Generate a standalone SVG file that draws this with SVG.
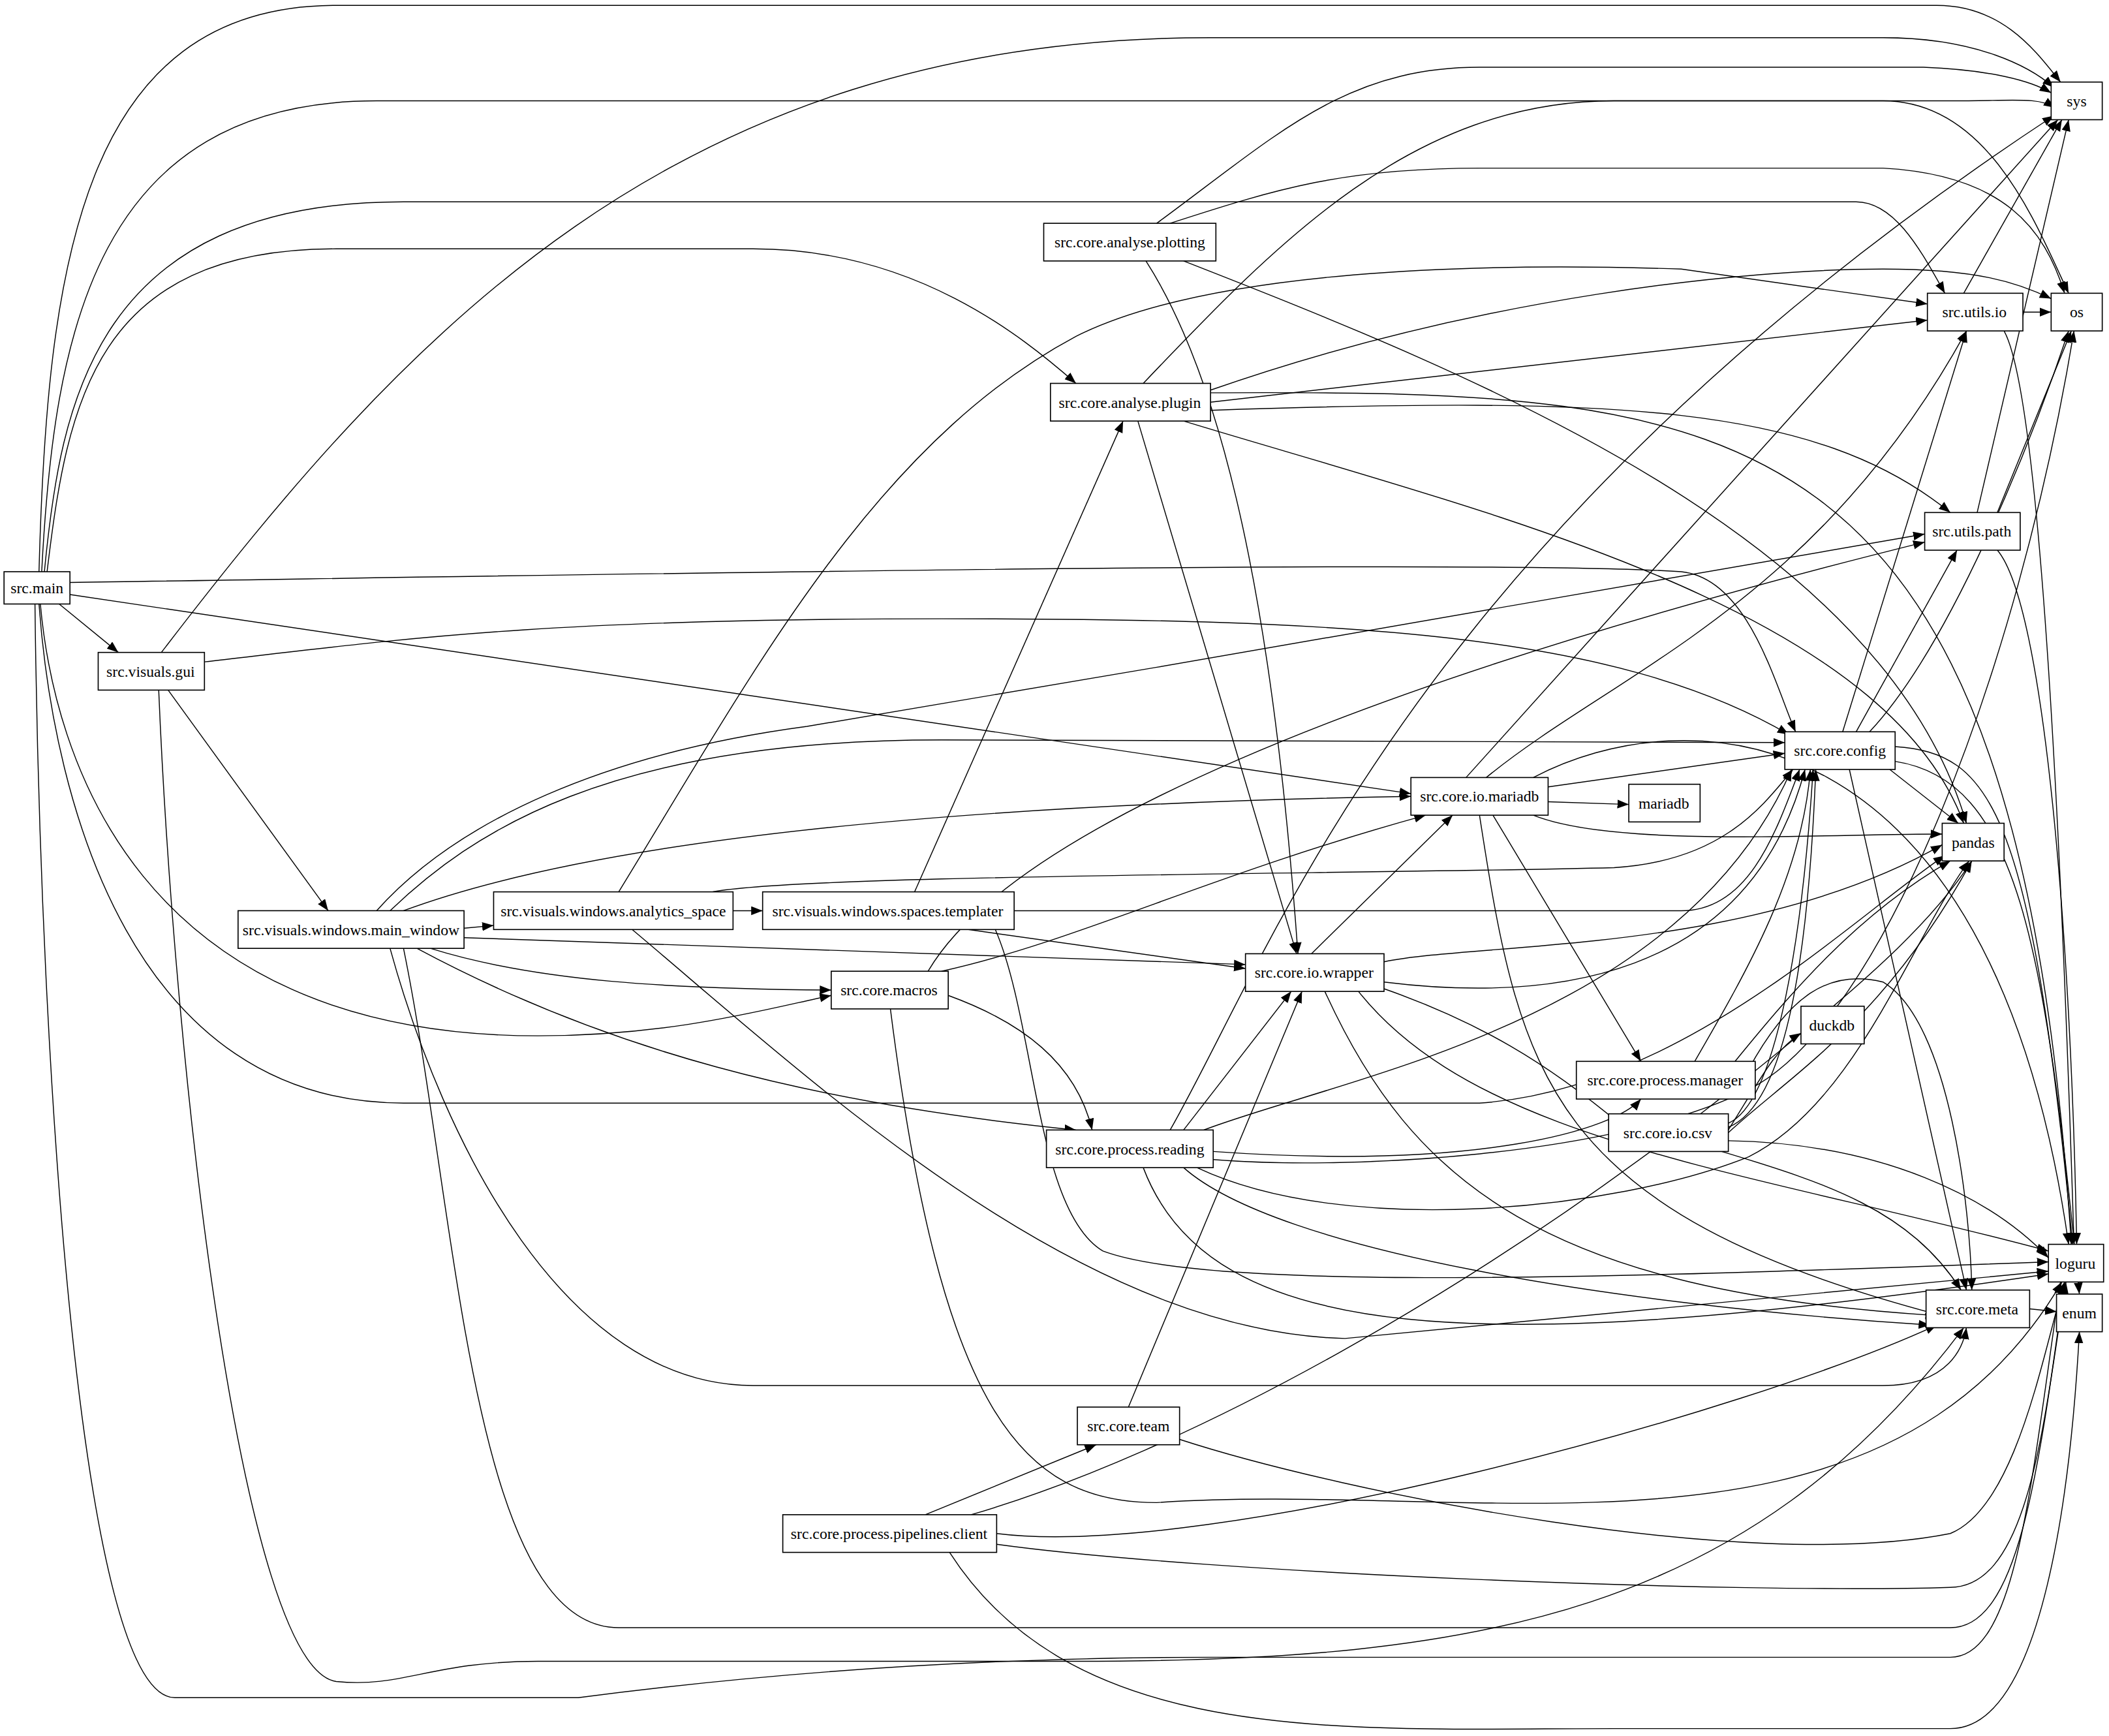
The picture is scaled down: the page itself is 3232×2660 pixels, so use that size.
<svg xmlns="http://www.w3.org/2000/svg" width="3232" height="2660" viewBox="0 0 3232 2660">
<style>
.n rect{fill:#fff;stroke:#000;stroke-width:0.8}
.n text{font-family:"Liberation Serif","Times New Roman",serif;font-size:11.5px;text-anchor:middle;fill:#000}
.e path{fill:none;stroke:#000;stroke-width:0.7;marker-end:url(#a)}
</style>
<defs><marker id="a" markerUnits="userSpaceOnUse" markerWidth="9" markerHeight="7" refX="8.5" refY="3.3" orient="auto"><path d="M0,0 L8.5,3.3 L0,6.6 z" fill="#000"/></marker></defs>
<rect width="3232" height="2660" fill="#fff"/>
<g transform="scale(2.0612)">
<g id="edges" class="e">
<path d="M29,425 C35,200 60,4 250,4 L1440,4 C1490,4 1515,40 1532,61"/>
<path d="M31,425 C40,250 70,75 280,75 L1400,75 C1480,75 1515,170 1538,218"/>
<path d="M33,425 C45,300 70,150 300,150 L1380,150 C1410,150 1430,190 1446,218"/>
<path d="M35,425 C50,300 70,185 250,185 L560,185 C680,185 760,250 800,285"/>
<path d="M52,433 C400,428 1100,415 1250,425 C1300,430 1320,510 1335,544"/>
<path d="M52,442 L1049,590"/>
<path d="M44,449 L88,485"/>
<path d="M30,449 C40,560 100,770 400,770 C500,770 570,750 618,740"/>
<path d="M29,449 C40,600 100,820 300,820 L1100,820 C1250,810 1380,680 1446,636"/>
<path d="M26,449 C30,800 60,1262 130,1262 L430,1262 C560,1245 720,1232 900,1232 L1450,1232 C1500,1232 1510,1100 1532,953"/>
<path d="M118,513 C130,800 180,1240 250,1250 C300,1255 320,1235 400,1235 L800,1235 C1100,1235 1300,1200 1460,987"/>
<path d="M120,485 C300,250 500,28 900,28 L1400,28 C1470,28 1510,50 1527,65"/>
<path d="M152,492 C300,475 400,460 700,460 C1000,460 1200,470 1330,546"/>
<path d="M125,513 L244,677"/>
<path d="M300,705 C340,900 350,1210 460,1210 L1450,1210 C1500,1210 1515,1100 1535,953"/>
<path d="M290,705 C330,850 420,1030 560,1030 L1400,1030 C1450,1030 1460,1000 1462,987"/>
<path d="M345,690 L367,688"/>
<path d="M345,697 L926,717"/>
<path d="M320,705 C400,730 500,735 618,736"/>
<path d="M310,705 C450,780 600,820 800,840"/>
<path d="M280,677 C340,610 450,560 600,540 C900,490 1300,420 1431,397"/>
<path d="M290,677 C350,620 450,550 700,550 L1327,552"/>
<path d="M300,677 C400,640 600,600 1049,592"/>
<path d="M545,677 L567,677"/>
<path d="M460,663 C560,500 650,330 800,250 C900,200 1100,195 1250,200 L1433,226"/>
<path d="M530,663 C600,650 1000,650 1200,645 C1280,640 1310,600 1333,572"/>
<path d="M470,691 C600,800 800,990 1000,995 L1523,945"/>
<path d="M680,663 L835,313"/>
<path d="M754,677 L1250,677 C1300,677 1320,620 1338,572"/>
<path d="M720,691 L926,720"/>
<path d="M740,691 C770,760 770,900 820,930 C900,960 1200,950 1523,938"/>
<path d="M860,166 C950,100 1000,50 1100,50 L1430,50 C1480,52 1510,60 1525,69"/>
<path d="M870,166 C950,140 1000,125 1100,125 L1400,125 C1490,130 1520,170 1535,218"/>
<path d="M852,194 C920,300 950,500 965,709"/>
<path d="M880,194 C1100,280 1400,400 1462,612"/>
<path d="M850,285 C950,180 1050,75 1200,75 L1450,75 C1500,75 1515,72 1528,80"/>
<path d="M900,290 C1100,220 1300,200 1400,200 C1470,200 1500,210 1525,222"/>
<path d="M900,299 L1433,238"/>
<path d="M900,305 C1200,295 1350,300 1450,381"/>
<path d="M900,292 C1300,290 1500,300 1540,925"/>
<path d="M880,313 C1100,380 1400,450 1460,612"/>
<path d="M846,313 L964,709"/>
<path d="M690,722 C750,620 1000,510 1431,403"/>
<path d="M700,722 C800,700 900,650 1060,606"/>
<path d="M705,740 C760,760 800,790 812,840"/>
<path d="M662,750 C700,1050 760,1117 860,1117 C1100,1100 1400,1180 1533,953"/>
<path d="M975,709 L1080,606"/>
<path d="M1029,715 C1100,700 1300,710 1444,628"/>
<path d="M1029,730 C1150,745 1300,730 1342,572"/>
<path d="M1029,735 C1100,760 1150,790 1205,836"/>
<path d="M985,737 C1050,880 1150,960 1440,978"/>
<path d="M1010,737 C1100,850 1300,870 1523,930"/>
<path d="M1090,578 L1530,89"/>
<path d="M1105,578 C1200,500 1350,450 1462,246"/>
<path d="M1151,585 L1327,560"/>
<path d="M1151,596 L1211,598"/>
<path d="M1140,606 C1200,630 1350,620 1444,620"/>
<path d="M1110,606 L1220,789"/>
<path d="M1100,606 C1130,800 1150,900 1440,977"/>
<path d="M1140,578 C1250,520 1480,520 1538,925"/>
<path d="M1370,544 L1462,246"/>
<path d="M1380,544 L1455,409"/>
<path d="M1390,544 C1450,480 1510,330 1538,246"/>
<path d="M1405,572 L1456,612"/>
<path d="M1375,572 L1462,959"/>
<path d="M1409,555 C1480,560 1510,600 1541,925"/>
<path d="M1409,566 C1500,580 1520,700 1546,962"/>
<path d="M1504,232 L1525,232"/>
<path d="M1460,218 L1533,89"/>
<path d="M1490,246 C1520,300 1535,700 1542,925"/>
<path d="M1470,381 L1538,89"/>
<path d="M1485,381 L1540,246"/>
<path d="M1485,409 C1520,450 1540,700 1544,925"/>
<path d="M870,840 C950,700 1050,400 1527,86"/>
<path d="M880,840 L960,737"/>
<path d="M895,840 C1000,800 1250,760 1332,572"/>
<path d="M902,856 C1100,870 1200,840 1220,817"/>
<path d="M890,868 C1000,920 1200,900 1300,860 C1380,820 1420,700 1464,640"/>
<path d="M902,862 C1000,870 1200,860 1300,810 C1400,760 1500,500 1542,246"/>
<path d="M880,868 C950,930 1200,970 1435,985"/>
<path d="M850,868 C900,1000 1100,1010 1523,947"/>
<path d="M1260,789 C1300,720 1340,650 1346,572"/>
<path d="M1290,789 C1330,740 1380,680 1450,640"/>
<path d="M1300,795 C1330,740 1360,720 1400,730 C1450,760 1465,900 1466,959"/>
<path d="M1285,835 C1320,820 1340,700 1348,572"/>
<path d="M1285,838 C1330,820 1345,700 1350,572"/>
<path d="M1285,840 C1310,800 1320,780 1339,768"/>
<path d="M1285,842 C1330,800 1400,760 1466,640"/>
<path d="M1280,856 C1360,880 1420,900 1458,959"/>
<path d="M1285,848 C1400,850 1480,890 1523,935"/>
<path d="M1509,973 L1529,975"/>
<path d="M877,1070 C1000,1110 1300,1170 1450,1140 C1500,1120 1520,1000 1535,953"/>
<path d="M688,1126 L815,1074"/>
<path d="M722,1126 C880,1080 1100,960 1300,800 C1400,720 1440,680 1466,640"/>
<path d="M741,1140 C900,1160 1300,1050 1440,985"/>
<path d="M741,1148 C900,1170 1300,1185 1450,1180 C1510,1180 1520,1050 1536,953"/>
<path d="M706,1154 C800,1300 1000,1285 1200,1285 L1450,1285 C1520,1285 1540,1100 1546,990"/>
<path d="M839,1046 L968,737"/>
</g>
<g id="n_sys" class="n"><rect x="1525" y="61" width="38" height="28"/><text x="1544" y="79">sys</text></g>
<g id="n_os" class="n"><rect x="1525" y="218" width="38" height="28"/><text x="1544" y="236">os</text></g>
<g id="n_plotting" class="n"><rect x="776" y="166" width="128" height="28"/><text x="840" y="184">src.core.analyse.plotting</text></g>
<g id="n_utils_io" class="n"><rect x="1433" y="218" width="71" height="28"/><text x="1468" y="236">src.utils.io</text></g>
<g id="n_plugin" class="n"><rect x="781" y="285" width="119" height="28"/><text x="840" y="303">src.core.analyse.plugin</text></g>
<g id="n_utils_path" class="n"><rect x="1431" y="381" width="71" height="28"/><text x="1466" y="399">src.utils.path</text></g>
<g id="n_main" class="n"><rect x="3" y="425" width="49" height="24"/><text x="27.5" y="441">src.main</text></g>
<g id="n_gui" class="n"><rect x="73" y="485" width="79" height="28"/><text x="112" y="503">src.visuals.gui</text></g>
<g id="n_config" class="n"><rect x="1327" y="544" width="82" height="28"/><text x="1368" y="562">src.core.config</text></g>
<g id="n_io_mariadb" class="n"><rect x="1049" y="578" width="102" height="28"/><text x="1100" y="596">src.core.io.mariadb</text></g>
<g id="n_mariadb" class="n"><rect x="1211" y="583" width="53" height="28"/><text x="1237" y="601">mariadb</text></g>
<g id="n_pandas" class="n"><rect x="1444" y="612" width="46" height="28"/><text x="1467" y="630">pandas</text></g>
<g id="n_main_window" class="n"><rect x="177" y="677" width="168" height="28"/><text x="261" y="695">src.visuals.windows.main_window</text></g>
<g id="n_analytics" class="n"><rect x="367" y="663" width="178" height="28"/><text x="456" y="681">src.visuals.windows.analytics_space</text></g>
<g id="n_templater" class="n"><rect x="567" y="663" width="187" height="28"/><text x="660" y="681">src.visuals.windows.spaces.templater</text></g>
<g id="n_macros" class="n"><rect x="618" y="722" width="87" height="28"/><text x="661" y="740">src.core.macros</text></g>
<g id="n_wrapper" class="n"><rect x="926" y="709" width="103" height="28"/><text x="977" y="727">src.core.io.wrapper</text></g>
<g id="n_duckdb" class="n"><rect x="1339" y="748" width="47" height="28"/><text x="1362" y="766">duckdb</text></g>
<g id="n_manager" class="n"><rect x="1172" y="789" width="133" height="28"/><text x="1238" y="807">src.core.process.manager</text></g>
<g id="n_csv" class="n"><rect x="1196" y="828" width="89" height="28"/><text x="1240" y="846">src.core.io.csv</text></g>
<g id="n_reading" class="n"><rect x="778" y="840" width="124" height="28"/><text x="840" y="858">src.core.process.reading</text></g>
<g id="n_loguru" class="n"><rect x="1523" y="925" width="41" height="28"/><text x="1543" y="943">loguru</text></g>
<g id="n_meta" class="n"><rect x="1432" y="959" width="77" height="28"/><text x="1470" y="977">src.core.meta</text></g>
<g id="n_enum" class="n"><rect x="1529" y="962" width="34" height="28"/><text x="1546" y="980">enum</text></g>
<g id="n_team" class="n"><rect x="801" y="1046" width="76" height="28"/><text x="839" y="1064">src.core.team</text></g>
<g id="n_client" class="n"><rect x="582" y="1126" width="159" height="28"/><text x="661" y="1144">src.core.process.pipelines.client</text></g>
</g>
</svg>
